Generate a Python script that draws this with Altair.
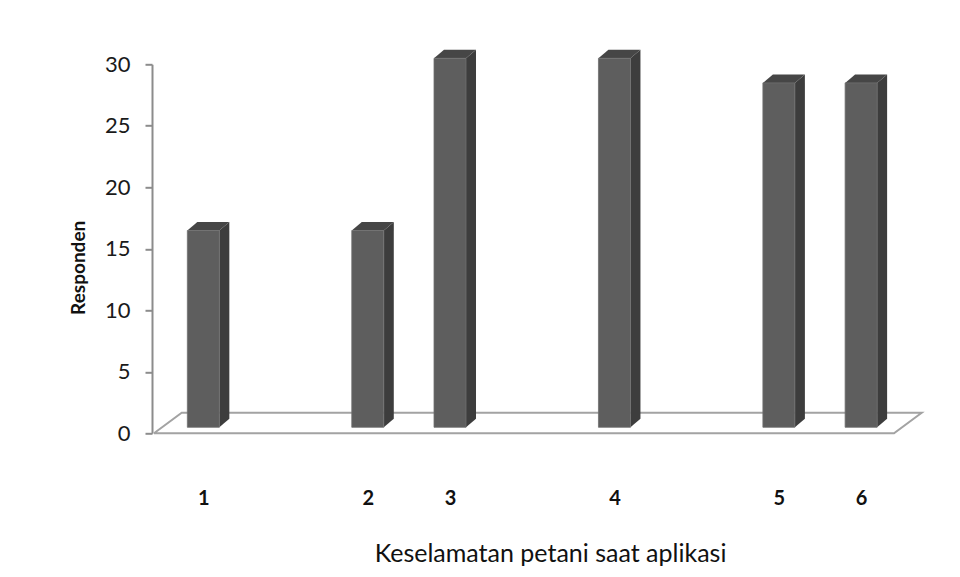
import json
import altair as alt
import pandas as pd

# Category labels, their slot on the x axis (empty slots stay blank) and counts
labels = ["1", "2", "3", "4", "5", "6"]
slots = [0, 2, 3, 5, 7, 8]
responden = [16, 16, 30, 30, 28, 28]

y_ticks = [0, 5, 10, 15, 20, 25, 30]

# Pixel geometry of the pseudo-3D drawing
PX_PER_SLOT = 82.2
PX_PER_UNIT = 369 / 30
HALF_W = 16 / PX_PER_SLOT            # half width of a bar's front face
DEPTH_X = 10 / PX_PER_SLOT           # bar depth, horizontal part
DEPTH_Y = 8.5 / PX_PER_UNIT          # bar depth, vertical part
FLOOR_DX = 27.7 / PX_PER_SLOT        # floor depth
FLOOR_DY = 20.6 / PX_PER_UNIT
X_MIN, X_MAX = -0.6, 8.4

bars = pd.DataFrame({"label": labels, "slot": slots, "value": responden})

# Two rows per bar: front edge (k=0) and back edge (k=1) of the side/top faces
faces = pd.DataFrame(
    [{"label": l, "slot": s, "value": v, "k": k}
     for l, s, v in zip(labels, slots, responden) for k in (0, 1)]
)

floor = pd.DataFrame({
    "fx": [X_MIN, X_MIN + FLOOR_DX, X_MAX + FLOOR_DX, X_MAX, X_MIN],
    "fy": [0, FLOOR_DY, FLOOR_DY, 0, 0],
    "i": [0, 1, 2, 3, 4],
})

lookup = [""] * 9
for s, l in zip(slots, labels):
    lookup[s] = l

x_scale = alt.Scale(domain=[X_MIN, X_MAX], range=[-3, 747], nice=False, zero=False)
y_scale = alt.Scale(domain=[0, 30], nice=False)

FONT = "Lato"
GRID = "#8c8c8c"
LIFT = -6  # bars stand slightly behind the floor's front edge

x_axis = alt.Axis(
    values=slots, labelExpr=json.dumps(lookup) + "[datum.value]",
    domain=False, ticks=False, tickSize=0, grid=False,
    labelFont=FONT, labelFontSize=20, labelFontWeight="bold", labelColor="#111111",
    labelPadding=55, labelAngle=0,
    title="Keselamatan petani saat aplikasi", titleFont=FONT, titleFontSize=25,
    titleFontWeight="normal", titleColor="#111111",
    titleX=398, titleY=120, titleAlign="center", titleBaseline="middle",
)
y_axis = alt.Axis(
    values=y_ticks, grid=False, domainColor=GRID, domainWidth=2,
    tickColor=GRID, tickWidth=2, tickSize=7,
    labelFont=FONT, labelFontSize=22, labelColor="#1a1a1a", labelPadding=15,
    title="Responden", titleFont=FONT, titleFontSize=19, titleFontWeight="bold",
    titleColor="#111111", titleAngle=270, titleX=-74, titleY=203,
    titleAlign="center", titleBaseline="middle",
)

floor_layer = alt.Chart(floor).mark_line(color="#a3a3a3", strokeWidth=2).encode(
    x=alt.X("fx:Q", scale=x_scale, axis=x_axis),
    y=alt.Y("fy:Q", scale=y_scale, axis=y_axis),
    order="i:Q",
)

front = alt.Chart(bars).mark_bar(
    size=32, color="#5e5e5e", stroke="#707070", strokeWidth=0.8,
    yOffset=LIFT, y2Offset=LIFT,
).encode(
    x=alt.X("slot:Q", scale=x_scale),
    y=alt.Y("value:Q", scale=y_scale),
    y2=alt.datum(0),
)

side = alt.Chart(faces).transform_calculate(
    sx=f"datum.slot + {HALF_W} + datum.k * {DEPTH_X}",
    sy=f"datum.value + datum.k * {DEPTH_Y}",
    sy2=f"datum.k * {DEPTH_Y}",
).mark_area(color="#3d3d3d", yOffset=LIFT, y2Offset=LIFT).encode(
    x=alt.X("sx:Q", scale=x_scale),
    y=alt.Y("sy:Q", scale=y_scale),
    y2="sy2:Q",
    detail="label:N",
)

top = alt.Chart(faces).transform_calculate(
    ty=f"datum.value + datum.k * {DEPTH_Y}",
    tx=f"datum.slot - {HALF_W} + datum.k * {DEPTH_X}",
    tx2=f"datum.slot + {HALF_W} + datum.k * {DEPTH_X}",
).mark_area(color="#464646", orient="horizontal", yOffset=LIFT, y2Offset=LIFT).encode(
    y=alt.Y("ty:Q", scale=y_scale),
    x=alt.X("tx:Q", scale=x_scale),
    x2="tx2:Q",
    detail="label:N",
)

chart = alt.layer(floor_layer, side, top, front).properties(
    width=760, height=369,
    padding={"left": 152, "top": 64.3, "right": 48, "bottom": 143.7},
    autosize=alt.AutoSizeParams(type="none"),
    background="white",
).configure_view(stroke=None)

chart.save("out.html", embed_options={"renderer": "svg", "actions": False})
